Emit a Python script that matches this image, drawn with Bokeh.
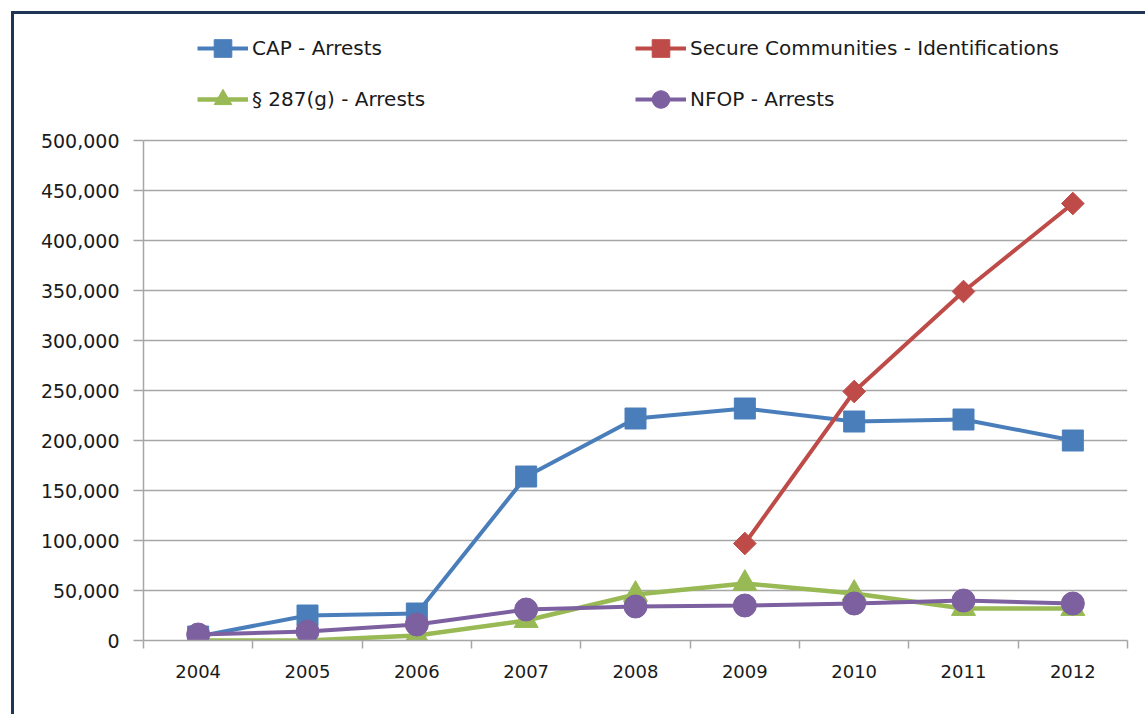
import math

from bokeh.embed import file_html
from bokeh.models import FixedTicker, Legend, LegendItem, NumeralTickFormatter, Range1d
from bokeh.plotting import figure
from bokeh.resources import INLINE

# Enforcement program counts by fiscal year
years = ["2004", "2005", "2006", "2007", "2008", "2009", "2010", "2011", "2012"]
cap_arrests = [4000, 25000, 27000, 164000, 222000, 232000, 219000, 221000, 200000]
sc_years = ["2009", "2010", "2011", "2012"]
sc_identifications = [97000, 249000, 349000, 437000]
g287_arrests = [0, 0, 5000, 20000, 46000, 57000, 47000, 32000, 32000]
nfop_arrests = [6000, 9000, 16000, 31000, 34000, 35000, 37000, 40000, 37000]
y_ticks = [0, 50000, 100000, 150000, 200000, 250000, 300000, 350000, 400000, 450000, 500000]

series_names = [
    "CAP - Arrests",
    "Secure Communities - Identifications",
    "§ 287(g) - Arrests",
    "NFOP - Arrests",
]

BLUE = "#4a7ebb"
RED = "#be4b48"
GREEN = "#98b954"
PURPLE = "#7d60a0"
GRID = "#a6a6a6"
FONT = "DejaVu Sans"
TEXT = "#1a1a1a"

x_all = list(range(len(years)))
x_sc = [years.index(y) for y in sc_years]

# the frame reaches up to the top edge so the legend can sit above the grid;
# 626 px of frame at 1,000 per px
p = figure(
    width=1134,
    height=703,
    output_backend="svg",
    toolbar_location=None,
    x_range=Range1d(-0.5, len(years) - 0.5),
    y_range=Range1d(0, 626000),
    min_border_left=129,
    min_border_right=21,
    min_border_top=0,
    min_border_bottom=77,
)
p.margin = (11, 0, 0, 11)
p.styles = {"border-left": "3px solid #1f3556", "border-top": "3px solid #1f3556"}
p.outline_line_color = None
p.background_fill_color = "white"
p.border_fill_color = "white"

# x axis: year labels at centres, tick marks on category boundaries
p.xaxis.ticker = FixedTicker(
    ticks=x_all,
    minor_ticks=[i - 0.5 for i in range(len(years) + 1)],
)
p.xaxis.major_label_overrides = {i: y for i, y in enumerate(years)}
p.xaxis.major_tick_out = 0
p.xaxis.major_tick_in = 0
p.xaxis.minor_tick_out = 8
p.xaxis.minor_tick_in = 0
p.xaxis.minor_tick_line_color = GRID
p.xaxis.minor_tick_line_width = 1.5
p.xaxis.axis_line_color = GRID
p.xaxis.axis_line_width = 1.5
p.xaxis.major_label_standoff = 16
p.xaxis.major_label_text_font = FONT
p.xaxis.major_label_text_font_size = "18px"
p.xaxis.major_label_text_color = TEXT
p.xgrid.visible = False

# y axis, drawn only over the value scale
p.yaxis.bounds = (y_ticks[0], y_ticks[-1])
p.yaxis.ticker = FixedTicker(ticks=y_ticks, minor_ticks=[])
p.yaxis.formatter = NumeralTickFormatter(format="0,0")
p.yaxis.major_tick_out = 10
p.yaxis.major_tick_in = 0
p.yaxis.major_tick_line_color = GRID
p.yaxis.major_tick_line_width = 1.5
p.yaxis.axis_line_color = GRID
p.yaxis.axis_line_width = 1.5
p.yaxis.major_label_standoff = 14
p.yaxis.major_label_text_font = FONT
p.yaxis.major_label_text_font_size = "19px"
p.yaxis.major_label_text_color = TEXT
p.ygrid.grid_line_color = GRID
p.ygrid.grid_line_width = 1.5

# series
cap_line = p.line(x_all, cap_arrests, line_color=BLUE, line_width=4)
cap_pts = p.scatter(x_all, cap_arrests, marker="square", size=21, fill_color=BLUE, line_color=BLUE)

g_line = p.line(x_all, g287_arrests, line_color=GREEN, line_width=4.5)
g_pts = p.scatter(x_all, g287_arrests, marker="triangle", size=24, fill_color=GREEN, line_color=GREEN)

n_line = p.line(x_all, nfop_arrests, line_color=PURPLE, line_width=4)
n_pts = p.scatter(x_all, nfop_arrests, marker="circle", size=23, fill_color=PURPLE, line_color=PURPLE)

sc_line = p.line(x_sc, sc_identifications, line_color=RED, line_width=4)
sc_pts = p.scatter(x_sc, sc_identifications, marker="square", size=16, angle=math.pi / 4,
                   fill_color=RED, line_color=RED)

legend = Legend(
    items=[
        LegendItem(label=series_names[0], renderers=[cap_line, cap_pts]),
        LegendItem(label=series_names[2], renderers=[g_line, g_pts]),
        LegendItem(label=series_names[1], renderers=[sc_line, sc_pts]),
        LegendItem(label=series_names[3], renderers=[n_line, n_pts]),
    ],
    location=(54, 519),
    orientation="vertical",
    ncols=2,
    glyph_width=51,
    glyph_height=44,
    label_height=20,
    label_width=376,
    label_standoff=4,
    spacing=7,
    padding=0,
    margin=0,
    border_line_color=None,
    background_fill_alpha=0,
    label_text_font=FONT,
    label_text_font_size="20px",
    label_text_color=TEXT,
)
p.add_layout(legend, "center")

open("out.html", "w").write(file_html(p, INLINE))
